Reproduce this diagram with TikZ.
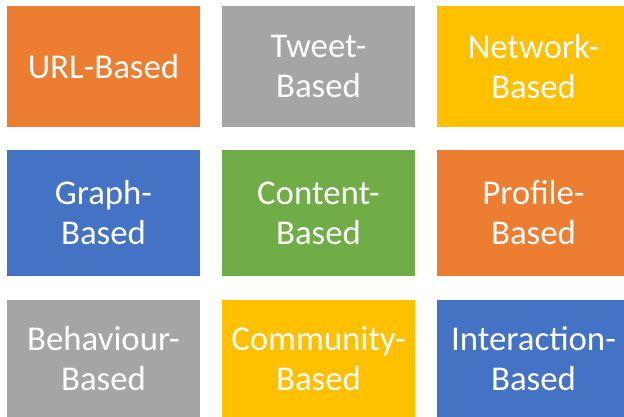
\documentclass[tikz,border=0pt]{standalone}
\usepackage{fontspec}
\setmainfont{Carlito}
\usepackage{tikz}

\definecolor{boxorange}{HTML}{ED7D31}
\definecolor{boxgray}{HTML}{A5A5A5}
\definecolor{boxgold}{HTML}{FFC000}
\definecolor{boxblue}{HTML}{4472C4}
\definecolor{boxgreen}{HTML}{70AD47}

\begin{document}
\begin{tikzpicture}[x=1pt, y=-1pt, every node/.style={rectangle, inner sep=0pt, minimum width=193pt, align=center, text=white, font=\fontsize{34.8}{40}\selectfont}]
		\useasboundingbox (0,0) rectangle (624,417);
		\clip (0,0) rectangle (624,417);
		%Row 1
		\node [fill=boxorange, minimum height=121pt] (url) at (103.5,66.5) {URL-Based};
		\node [fill=boxgray, minimum height=121pt] (tweet) at (318.5,66.5) {Tweet-\\Based};
		\node [fill=boxgold, minimum height=121pt] (network) at (533.5,66.5) {Network-\\Based};
		%Row 2
		\node [fill=boxblue, minimum height=126pt] (graph) at (103.5,213) {Graph-\\Based};
		\node [fill=boxgreen, minimum height=126pt] (content) at (318.5,213) {Content-\\Based};
		\node [fill=boxorange, minimum height=126pt] (profile) at (533.5,213) {Profile-\\Based};
		%Row 3
		\node [fill=boxgray, minimum height=117pt] (behaviour) at (103.5,358.5) {Behaviour-\\Based};
		\node [fill=boxgold, minimum height=117pt] (community) at (318.5,358.5) {Community-\\Based};
		\node [fill=boxblue, minimum height=117pt] (interaction) at (533.5,358.5) {Interaction-\\Based};
\end{tikzpicture}
\end{document}
